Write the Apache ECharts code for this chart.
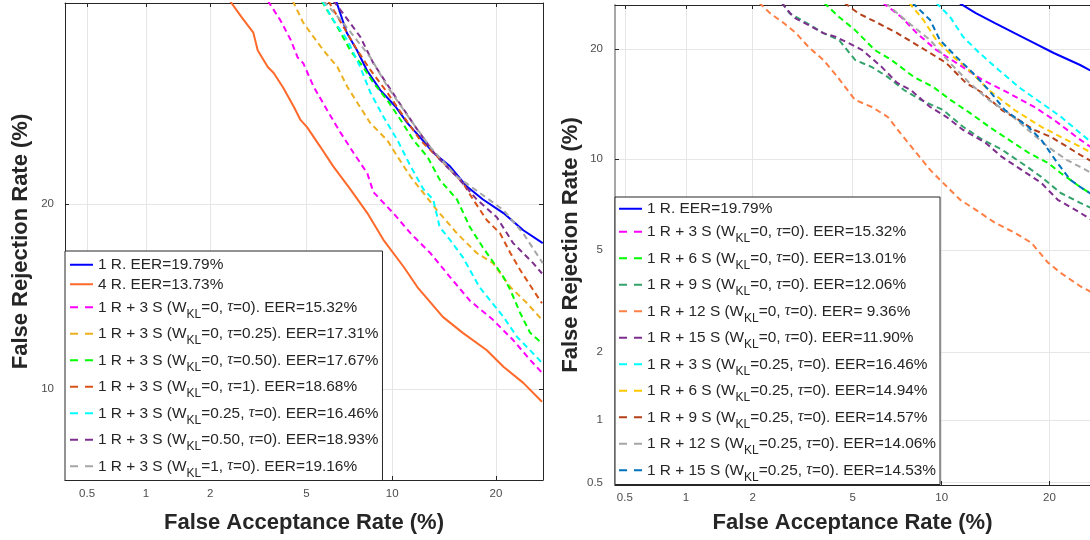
<!DOCTYPE html>
<html><head><meta charset="utf-8">
<script src="https://cdn.jsdelivr.net/npm/echarts@6/dist/echarts.min.js"></script>
<style>html,body{margin:0;padding:0;background:#fff}#c{width:1090px;height:540px}</style>
</head><body><div id="c"></div>
<script>
// ---------- axis limits (percent) and ticks ----------
const leftXRange = [0.38, 26.04];
const leftYRange = [6.71, 35.8];
const rightXRange = [0.445, 24.96];
const rightYRange = [0.486, 25.3];
const tickPercents = [0.5, 1, 2, 5, 10, 20];
const xTitle = 'False Acceptance Rate (%)';
const yTitle = 'False Rejection Rate (%)';

// ---------- left panel ----------
const leftLabels = [
  '1 R. EER=19.79%',
  '4 R. EER=13.73%',
  '1 R + 3 S (W_KL=0, τ=0). EER=15.32%',
  '1 R + 3 S (W_KL=0, τ=0.25). EER=17.31%',
  '1 R + 3 S (W_KL=0, τ=0.50). EER=17.67%',
  '1 R + 3 S (W_KL=0, τ=1). EER=18.68%',
  '1 R + 3 S (W_KL=0.25, τ=0). EER=16.46%',
  '1 R + 3 S (W_KL=0.50, τ=0). EER=18.93%',
  '1 R + 3 S (W_KL=1, τ=0). EER=19.16%'
];
const leftColors = ['#0000FF','#FF6A2B','#FF00FF','#EDB120','#00FF00','#D95319','#00FFFF','#7E2F8E','#A6A6A6'];
const leftDashed = [false,false,true,true,true,true,true,true,true];

const L_1R = [[6.43,36],[7.02,33.2],[7.62,31.7],[8.25,30.0],[9.14,28.4],[10.24,27.1],[11.18,25.8],[12.26,24.7],[13.4,23.6],[15,22.6],[16.7,21.2],[18.5,20.3],[20.9,19.4],[23.4,18.3],[26,17.5]];
const L_4R = [[2.44,36],[2.73,34.6],[3.07,33.2],[3.2,31.7],[3.52,30.3],[3.72,29.8],[4.06,28.6],[4.46,27.1],[4.74,26.05],[5.02,25.5],[5.64,24],[6.28,22.6],[7.22,21.0],[8.27,19.4],[9.36,17.7],[10.9,16.06],[12,14.94],[14.3,13.35],[16.3,12.55],[18.9,11.73],[20.9,10.96],[23.4,10.26],[25.9,9.48]];
const L_3S_t0 = [[3.52,36],[3.95,34.3],[4.34,32.6],[4.62,31.1],[4.86,30.6],[5.31,28.7],[5.97,26.8],[6.66,25.1],[7.4,23.6],[8.27,22.1],[8.67,20.8],[10.08,19.4],[11.44,18.1],[13.13,16.9],[15,15.5],[17.05,14.2],[19.65,13.2],[22.1,12.2],[24.3,11.27],[25.9,10.7]];
const L_3S_t025 = [[4.42,36],[4.86,34.05],[5.31,32.84],[5.78,31.7],[6.5,30.3],[7.04,28.7],[7.64,27.4],[8.47,25.8],[9.64,24.5],[10.4,23.3],[11.44,21.86],[12.26,21.0],[13.74,19.6],[15.7,18.1],[17.8,16.9],[19.65,16.3],[21.75,14.94],[23.9,14.06],[25.9,13.2]];
const L_3S_t050 = [[5.7,36],[5.87,35.45],[6.5,33.7],[7.22,31.7],[8,30.3],[8.67,29.0],[9.64,27.6],[10.64,26.05],[11.68,24.5],[12.87,23.3],[14,21.66],[15.7,20.3],[17.05,18.5],[18.47,17.25],[20.1,16.06],[20.9,15.5],[21.75,14.78],[23,13.55],[24.3,12.55],[25.9,12.05]];
const L_3S_t1 = [[6.02,36],[6.93,33.45],[7.64,31.7],[8.47,30.05],[9.64,28.2],[10.88,26.3],[12.26,24.5],[14.3,22.9],[16.3,21.45],[17.4,20.3],[18.94,18.94],[20.5,18.1],[21.75,16.9],[23,15.9],[24.7,14.78],[25.9,14.06]];
const L_3S_w025 = [[5.73,36],[6.28,34.3],[7.04,32.6],[7.82,30.3],[8.47,28.2],[9.36,26.3],[10.4,24.5],[11.44,22.6],[12.52,21.0],[13.4,20.3],[14,18.5],[15,17.7],[16.3,16.65],[18.1,14.94],[20.9,13.35],[22.6,12.35],[23.9,11.86],[25.9,11.14]];
const L_3S_w050 = [[6.28,36],[6.66,35.2],[7.82,32.85],[8.67,30.6],[10.4,27.6],[12,25.3],[13.74,23.3],[15.7,21.86],[17.8,20.3],[20.1,19.13],[22.1,17.5],[24.7,16.3],[25.9,15.7]];
const L_3S_w1 = [[5.78,36],[6.82,34.05],[8.47,31.1],[9.64,28.7],[11.44,26.05],[13.13,24],[15.7,21.86],[18.1,20.76],[20.9,19.6],[23.4,18.1],[26,16.3]];
const leftData = [L_1R, L_4R, L_3S_t0, L_3S_t025, L_3S_t050, L_3S_t1, L_3S_w025, L_3S_w050, L_3S_w1];

// ---------- right panel ----------
const rightLabels = [
  '1 R. EER=19.79%',
  '1 R + 3 S (W_KL=0, τ=0). EER=15.32%',
  '1 R + 6 S (W_KL=0, τ=0). EER=13.01%',
  '1 R + 9 S (W_KL=0, τ=0). EER=12.06%',
  '1 R + 12 S (W_KL=0, τ=0). EER= 9.36%',
  '1 R + 15 S (W_KL=0, τ=0). EER=11.90%',
  '1 R + 3 S (W_KL=0.25, τ=0). EER=16.46%',
  '1 R + 6 S (W_KL=0.25, τ=0). EER=14.94%',
  '1 R + 9 S (W_KL=0.25, τ=0). EER=14.57%',
  '1 R + 12 S (W_KL=0.25, τ=0). EER=14.06%',
  '1 R + 15 S (W_KL=0.25, τ=0). EER=14.53%'
];
const rightColors = ['#0000FF','#FF00FF','#00FF00','#33A36B','#FF7F45','#7E2F8E','#00FFFF','#FFC800','#B5401A','#A6A6A6','#0072BD'];
const rightDashed = [false,true,true,true,true,true,true,true,true,true,true];

const R_1R = [[11.1,26],[11.37,25.5],[12.67,24.27],[14.37,23.05],[16.26,21.84],[18.32,20.69],[20.5,19.57],[23.7,18.27],[25,17.7]];
const R_3S_w0 = [[6.4,25.6],[7.38,23.82],[8.33,21.84],[9.62,19.9],[11.09,18.49],[13.25,16.73],[15.65,15.46],[18.32,14.16],[20.5,13.05],[23.7,11.43],[25,10.9]];
const R_6S_w0 = [[3.9,25.6],[4.45,23.78],[5.1,22.2],[6,19.9],[6.85,18.81],[8.14,17.04],[9.42,16.02],[10.64,14.81],[12.17,13.64],[13.83,12.46],[15.67,11.43],[17.7,10.45],[19.83,9.73],[21.31,9.06],[23.7,8.18],[25,7.8]];
const R_9S_w0 = [[2.65,25.6],[2.85,24.27],[3.34,23.05],[3.88,21.84],[4.45,21.03],[5.1,18.81],[5.86,18.05],[6.65,17.04],[7.56,15.74],[8.58,14.81],[10.1,13.89],[11.62,12.46],[13.25,11.43],[15.02,10.68],[16.97,9.73],[19.08,8.81],[21.31,7.82],[23.7,7.26],[25,7.0]];
const R_12S_w0 = [[2.13,25.6],[2.37,24.27],[2.7,23.05],[3.03,21.84],[3.4,20.23],[3.88,18.81],[4.34,17.2],[5.1,14.81],[5.86,14.16],[6.65,13.3],[7.35,11.95],[8.14,10.68],[9.2,9.26],[10.1,8.43],[11.39,7.43],[12.67,6.88],[14.37,6.22],[16.26,5.75],[18,5.3],[19.83,4.5],[21.31,4.12],[23.7,3.67],[25,3.5]];
const R_15S_w0 = [[2.65,25.6],[2.95,23.78],[3.4,22.8],[3.88,21.84],[4.34,21.38],[4.82,20.69],[5.41,19.9],[6.35,18.05],[7.17,16.43],[7.96,15.74],[9.2,14.16],[10.33,13.3],[11.62,12.2],[13.5,11.2],[15.02,10.15],[16.97,9.26],[19.08,8.43],[20.97,7.43],[23.7,6.73],[25,6.4]];
const R_3S_w025 = [[9.6,25.6],[10.61,23.82],[11.62,21.41],[12.98,19.57],[14.72,17.75],[16.64,16.05],[19.08,14.53],[21.31,13.32],[23.7,11.95],[25,11.3]];
const R_6S_w025 = [[7.85,25.6],[8.76,23.41],[9.62,21.03],[10.86,19.14],[11.85,18.05],[13.8,15.74],[16.26,13.89],[19.08,12.46],[21.31,11.65],[23.7,10.9],[25,10.5]];
const R_9S_w025 = [[4.65,25.6],[5.23,24.27],[6.15,23.05],[7.17,21.84],[8.14,20.69],[9.2,19.57],[10.33,18.49],[11.85,16.43],[13.25,15.46],[15.02,13.89],[16.64,13.05],[18.32,12.2],[20.16,11.65],[22.08,10.9],[23.7,10.3],[25,9.9]];
const R_12S_w025 = [[6.55,25.6],[7.17,24.27],[8.14,22.56],[9.2,21.03],[10.61,18.49],[12.14,16.43],[13.8,14.81],[15.65,13.64],[17.66,12.2],[19.8,10.9],[22.08,9.93],[23.7,9.46],[25,9.1]];
const R_15S_w025 = [[8.05,25.6],[9.2,23.41],[9.87,21.03],[11.09,19.14],[12.42,17.44],[13.8,15.74],[15.3,13.89],[17.66,12.46],[19.08,11.43],[20.93,9.73],[22.48,8.62],[23.7,8.18],[25,7.8]];
const rightData = [R_1R, R_3S_w0, R_6S_w0, R_9S_w0, R_12S_w0, R_15S_w0, R_3S_w025, R_6S_w025, R_9S_w025, R_12S_w025, R_15S_w025];

// ---------- probit (normal deviate) scale helper ----------
function probit(pct) {
  const p = pct / 100;
  const a=[-3.969683028665376e+01,2.209460984245205e+02,-2.759285104469687e+02,1.383577518672690e+02,-3.066479806614716e+01,2.506628277459239e+00];
  const b=[-5.447609879822406e+01,1.615858368580409e+02,-1.556989798598866e+02,6.680131188771972e+01,-1.328068155288572e+01];
  const c=[-7.784894002430293e-03,-3.223964580411365e-01,-2.400758277161838e+00,-2.549732539343734e+00,4.374664141464968e+00,2.938163982698783e+00];
  const d=[7.784695709041462e-03,3.224671290700398e-01,2.445134137142996e+00,3.754408661907416e+00];
  const pl = 0.02425, ph = 1 - pl; let q, r;
  if (p < pl) { q = Math.sqrt(-2*Math.log(p)); return (((((c[0]*q+c[1])*q+c[2])*q+c[3])*q+c[4])*q+c[5])/((((d[0]*q+d[1])*q+d[2])*q+d[3])*q+1); }
  if (p <= ph) { q = p - 0.5; r = q*q; return (((((a[0]*r+a[1])*r+a[2])*r+a[3])*r+a[4])*r+a[5])*q/(((((b[0]*r+b[1])*r+b[2])*r+b[3])*r+b[4])*r+1); }
  q = Math.sqrt(-2*Math.log(1-p)); return -(((((c[0]*q+c[1])*q+c[2])*q+c[3])*q+c[4])*q+c[5])/((((d[0]*q+d[1])*q+d[2])*q+d[3])*q+1);
}
function ticksIn(range) { return tickPercents.filter(t => t >= range[0] && t <= range[1]).map(probit); }
function tickFmt(v) { const t = tickPercents.find(p => Math.abs(probit(p) - v) < 1e-6); return t === undefined ? '' : String(t); }
function richLabel(s) { return s.replace('W_KL', 'W{s|KL}').replace(/τ/g, '{t|τ}'); }

const FONT = 'Liberation Sans';
const DARK = '#262626';

function axis(gridIndex, range, opts) {
  const o = {
    gridIndex, type: 'value', min: probit(range[0]), max: probit(range[1]),
    axisLine: { show: true, onZero: false, lineStyle: { color: DARK, width: 1 } },
    axisTick: { show: true, inside: true, length: 4, customValues: ticksIn(range), lineStyle: { color: DARK } },
    axisLabel: { show: false },
    splitLine: { show: false }
  };
  return Object.assign(o, opts || {});
}
function mainAxisExtra(range, name, nameGap, margin) {
  return {
    name, nameLocation: 'middle', nameGap,
    nameTextStyle: { fontFamily: FONT, fontSize: 22, fontWeight: 'bold', color: DARK },
    axisLabel: { show: true, customValues: ticksIn(range), formatter: tickFmt, margin, color: '#4d4d4d', fontSize: 11.5, fontFamily: FONT },
    splitLine: { show: true, lineStyle: { color: '#e6e6e6', width: 1 } }
  };
}

const xAxes = [
  axis(0, leftXRange, Object.assign({ position: 'bottom' }, mainAxisExtra(leftXRange, xTitle, 32, 8))),
  axis(0, leftXRange, { position: 'top' }),
  axis(1, rightXRange, Object.assign({ position: 'bottom' }, mainAxisExtra(rightXRange, xTitle, 27, 7))),
  axis(1, rightXRange, { position: 'top' })
];
const yLeft2 = axis(1, rightYRange, Object.assign({ position: 'left' }, mainAxisExtra(rightYRange, yTitle, 33, 12)));
yLeft2.axisLine.lineStyle = { color: '#A8A8A8', width: 2 };
const yAxes = [
  axis(0, leftYRange, Object.assign({ position: 'left' }, mainAxisExtra(leftYRange, yTitle, 33, 11))),
  axis(0, leftYRange, { position: 'right' }),
  yLeft2
];

const series = [];
const richMap = {};
function addSeries(prefix, labels, colors, dashed, datas, xi, yi) {
  labels.forEach((lab, i) => {
    const id = prefix + i;
    richMap[id] = richLabel(lab);
    series.push({
      type: 'line', name: id, xAxisIndex: xi, yAxisIndex: yi,
      data: datas[i].map(([x, y]) => [probit(x), probit(y)]),
      symbol: 'none', showSymbol: false, clip: true, animation: false, silent: true,
      lineStyle: { color: colors[i], width: 2, type: dashed[i] ? [6, 4] : 'solid' },
      itemStyle: { color: colors[i] }
    });
  });
}
addSeries('L', leftLabels, leftColors, leftDashed, leftData, 0, 0);
addSeries('R', rightLabels, rightColors, rightDashed, rightData, 2, 2);

function legendFor(prefix, labels, dashed, left, top, padding) {
  return {
    orient: 'vertical', left, top, itemGap: 0, itemWidth: 23, itemHeight: 14,
    padding, backgroundColor: '#fff', borderColor: DARK, borderWidth: 1, borderRadius: 0,
    selectedMode: false,
    itemStyle: { opacity: 0 },
    data: labels.map((l, i) => ({ name: prefix + i, lineStyle: dashed[i] ? { type: [8, 7] } : { type: 'solid' } })),
    formatter: name => richMap[name],
    textStyle: {
      fontFamily: FONT, fontSize: 15.4, color: DARK, lineHeight: 19.5,
      rich: {
        s: { fontFamily: FONT, fontSize: 12, color: DARK, lineHeight: 26.5, padding: [14.5, 0, 0, 0] },
        t: { fontFamily: 'Liberation Serif', fontStyle: 'italic', fontSize: 16, color: DARK }
      }
    }
  };
}

const chart = echarts.init(document.getElementById('c'), null, { renderer: 'canvas' });
chart.setOption({
  animation: false,
  backgroundColor: '#fff',
  textStyle: { fontFamily: FONT },
  grid: [
    { left: 65, top: 3, width: 478, height: 477 },
    { left: 615, top: 5, width: 485, height: 480 }
  ],
  xAxis: xAxes,
  yAxis: yAxes,
  legend: [
    legendFor('L', leftLabels, leftDashed, 65, 251, [4, 4, 1, 4]),
    legendFor('R', rightLabels, rightDashed, 615, 197, [2, 4, 1, 3])
  ],
  series
});
</script></body></html>
